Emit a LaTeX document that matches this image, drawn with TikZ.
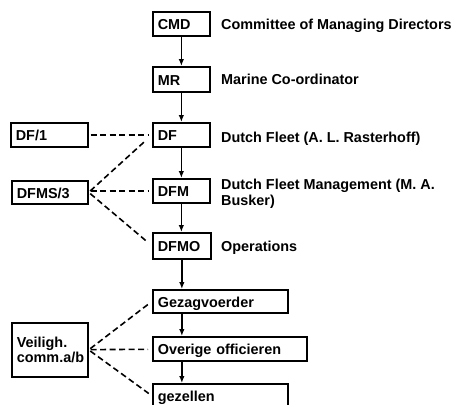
\documentclass[tikz,border=0pt]{standalone}
\usepackage{fontspec}
\setmainfont{Liberation Sans}
\usetikzlibrary{arrows.meta}

\tikzset{
    unit/.style={draw, line width=1.7pt, anchor=north west, inner xsep=5pt, inner ysep=0pt, align=left},
    tag/.style={unit, text height=12pt, text depth=0pt},
    note/.style={anchor=base west, inner sep=0pt},
    link/.style={dash pattern=on 6pt off 3.5pt, line width=1.6pt, shorten <=2pt, shorten >=4pt},
    down/.style={-{Latex[length=7pt,width=5.5pt]}, line width=1.3pt}
}

\begin{document}
\begin{tikzpicture}[x=1pt, y=-1pt, font=\fontsize{14.4}{15.5}\selectfont\bfseries]
                \clip (0,0) rectangle (451,405);

                \node[tag, text width=47pt, minimum height=24pt] (cmd) at (152,11) {CMD};
                \node[tag, text width=47pt, minimum height=25pt] (mr) at (152,66) {MR};
                \node[tag, text width=47pt, minimum height=24pt] (df) at (152,122) {DF};
                \node[tag, text width=67pt, minimum height=24pt] (dfone) at (10,122) {DF/1};
                \node[tag, text width=66pt, minimum height=23pt] (dfms) at (11,180) {DFMS/3};
                \node[tag, text width=47pt, minimum height=24pt] (dfm) at (152,178) {DFM};
                \node[tag, text width=48pt, minimum height=26pt] (dfmo) at (152,232) {DFMO};
                \node[tag, text width=125pt, minimum height=23pt] (gezag) at (152,289) {Gezagvoerder};
                \node[tag, text width=144pt, minimum height=24pt] (over) at (152,336) {Overige officieren};
                \node[tag, text width=125pt, minimum height=24pt] (gez) at (152,383) {gezellen};
                \node[unit, text width=66pt, minimum height=54pt] (veil) at (11,322) {Veiligh.\\comm.a/b};

                \node[note] (cmdlabel) at (221,29.5) {Committee of Managing Directors};
                \node[note] (mrlabel) at (221,84) {Marine Co-ordinator};
                \node[note] (dflabel) at (221,142.5) {Dutch Fleet (A. L. Rasterhoff)};
                \node[note, align=left, anchor=west] (dfmlabel) at (221,194) {Dutch Fleet Management (M. A.\\Busker)};
                \node[note] (dfmolabel) at (221,251) {Operations};

                \draw[down] (cmd) -- (mr);
                \draw[down] (mr) -- (df);
                \draw[down] (df) -- (dfm);
                \draw[down] (dfm.south) -- (dfm.south |- dfmo.north);
                \draw[down] (dfmo.south) -- (dfmo.south |- gezag.north);
                \draw[down] (gezag.south -| dfmo.south) -- (over.north -| dfmo.south);
                \draw[down] (over.south -| dfmo.south) -- (gez.north -| dfmo.south);

                \draw[link] (dfone) -- (df);
                \draw[link, shorten >=8pt] (dfms.east) -- (df.west);
                \draw[link] (dfm.west -| dfms.east) -- (dfm.west);
                \draw[link, shorten >=8pt] (dfms.east) -- (dfmo.west);
                \draw[link] (veil.east) -- (gezag.west);
                \draw[link] (veil) -- (over);
                \draw[link] (veil.east) -- (gez.west);
                % \draw[link] (veil.east) -- (dfmo.west);
\end{tikzpicture}
\end{document}
